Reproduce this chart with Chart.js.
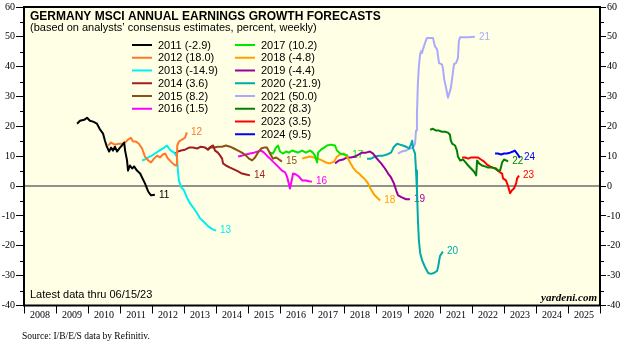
<!DOCTYPE html>
<html>
<head>
<meta charset="utf-8">
<script src="https://cdn.jsdelivr.net/npm/chart.js@4"></script>
<style>
  html, body { margin: 0; padding: 0; background: #fff; }
  #wrap { width: 640px; height: 347px; }
</style>
</head>
<body>
<div id="wrap"><canvas id="c" width="640" height="347"></canvas></div>
<script>
// Weekly consensus forecasts of annual earnings growth, [decimal year, percent]
const fy2011 = [[2009.66,20.9],[2009.75,21.9],[2009.88,22.2],[2009.97,22.9],[2010.06,21.9],[2010.16,21.6],[2010.28,20.9],[2010.38,18.9],[2010.47,17.6],[2010.53,15.2],[2010.59,13.2],[2010.66,11.6],[2010.72,12.9],[2010.78,11.9],[2010.84,13.2],[2010.91,11.6],[2011.00,12.9],[2011.06,13.6],[2011.13,14.6],[2011.16,11.9],[2011.22,8.6],[2011.25,5.2],[2011.31,6.9],[2011.38,5.9],[2011.44,6.6],[2011.53,5.2],[2011.63,4.2],[2011.69,2.9],[2011.78,0.9],[2011.88,-1.8],[2011.97,-3.1],[2012.09,-2.9]];
const fy2012 = [[2010.63,13.6],[2010.72,14.6],[2010.84,13.9],[2010.97,14.2],[2011.09,14.2],[2011.19,14.9],[2011.25,15.6],[2011.34,16.2],[2011.41,14.9],[2011.50,14.9],[2011.59,14.2],[2011.69,12.6],[2011.78,9.9],[2011.88,8.6],[2011.97,7.9],[2012.06,9.2],[2012.16,10.2],[2012.25,9.6],[2012.34,10.6],[2012.41,10.9],[2012.50,9.2],[2012.59,8.2],[2012.69,7.2],[2012.75,6.9],[2012.78,10.2],[2012.79,13.6],[2012.84,14.9],[2012.94,15.6],[2013.03,16.2],[2013.09,18.0]];
const fy2013 = [[2011.69,8.6],[2011.78,8.9],[2011.88,9.6],[2012.00,10.2],[2012.09,10.9],[2012.19,11.6],[2012.28,12.2],[2012.38,12.9],[2012.47,13.6],[2012.53,12.6],[2012.59,11.9],[2012.69,11.2],[2012.78,9.9],[2012.81,5.2],[2012.84,1.9],[2012.91,-0.4],[2013.00,-1.4],[2013.09,-3.8],[2013.19,-5.8],[2013.28,-7.1],[2013.41,-9.1],[2013.50,-10.8],[2013.63,-12.1],[2013.75,-13.4],[2013.88,-14.4],[2014.00,-14.9]];
const fy2014 = [[2012.72,10.9],[2012.81,11.6],[2012.91,11.9],[2013.03,12.2],[2013.16,12.9],[2013.28,12.9],[2013.41,12.6],[2013.53,13.2],[2013.66,12.9],[2013.75,12.2],[2013.84,13.2],[2013.91,13.6],[2013.97,11.9],[2014.06,11.2],[2014.13,10.2],[2014.19,9.2],[2014.22,7.6],[2014.31,6.9],[2014.44,6.2],[2014.56,5.6],[2014.69,4.9],[2014.81,4.2],[2014.94,3.9],[2015.06,3.6]];
const fy2015 = [[2013.72,12.2],[2013.81,12.9],[2013.94,12.9],[2014.06,13.2],[2014.19,13.2],[2014.31,13.6],[2014.44,13.2],[2014.56,12.6],[2014.69,11.9],[2014.81,11.2],[2014.94,10.2],[2015.03,9.2],[2015.13,8.6],[2015.22,9.6],[2015.31,11.2],[2015.41,12.6],[2015.50,12.9],[2015.59,12.9],[2015.69,10.9],[2015.78,9.2],[2015.88,9.6],[2015.97,8.9],[2016.06,8.2]];
const fy2016 = [[2014.69,9.9],[2014.81,10.2],[2014.94,10.6],[2015.06,10.9],[2015.19,11.2],[2015.31,11.6],[2015.41,11.9],[2015.50,11.2],[2015.59,10.2],[2015.69,9.2],[2015.78,8.2],[2015.88,7.2],[2015.97,6.2],[2016.06,5.2],[2016.16,4.6],[2016.22,3.2],[2016.28,0.6],[2016.31,-0.8],[2016.38,2.6],[2016.41,4.2],[2016.50,3.9],[2016.59,3.2],[2016.69,1.9],[2016.81,1.9],[2016.91,1.6],[2017.00,1.5]];
const fy2017 = [[2015.69,11.2],[2015.78,10.9],[2015.88,12.9],[2015.94,13.6],[2016.00,11.6],[2016.09,10.9],[2016.19,11.6],[2016.28,11.2],[2016.38,11.9],[2016.47,11.6],[2016.56,11.2],[2016.69,11.9],[2016.81,11.2],[2016.94,11.9],[2017.03,11.2],[2017.09,10.2],[2017.16,7.9],[2017.19,11.2],[2017.28,12.2],[2017.38,12.9],[2017.47,13.6],[2017.59,13.9],[2017.72,13.6],[2017.78,11.9],[2017.88,10.9],[2018.00,10.6],[2018.13,10.2]];
const fy2018 = [[2016.69,9.2],[2016.81,9.6],[2016.94,9.9],[2017.06,9.6],[2017.19,9.2],[2017.31,8.6],[2017.44,7.9],[2017.56,7.6],[2017.69,8.2],[2017.78,9.9],[2017.88,10.6],[2018.00,10.9],[2018.09,9.9],[2018.19,7.9],[2018.28,6.2],[2018.38,4.9],[2018.47,4.2],[2018.56,3.2],[2018.66,2.2],[2018.75,0.9],[2018.84,-1.1],[2018.94,-2.8],[2019.03,-3.8],[2019.13,-4.8]];
const fy2019 = [[2017.72,7.6],[2017.84,8.6],[2017.97,8.9],[2018.09,9.6],[2018.22,9.6],[2018.34,9.9],[2018.47,10.6],[2018.56,11.2],[2018.69,11.2],[2018.81,11.6],[2018.91,10.9],[2019.03,9.2],[2019.16,7.6],[2019.28,5.9],[2019.38,4.2],[2019.47,2.9],[2019.56,0.9],[2019.63,-1.4],[2019.69,-3.1],[2019.81,-3.8],[2019.94,-4.4],[2020.06,-4.4]];
const fy2020 = [[2018.72,9.2],[2018.84,9.2],[2018.97,9.9],[2019.09,10.2],[2019.22,10.2],[2019.34,10.6],[2019.47,11.2],[2019.56,13.2],[2019.66,14.2],[2019.75,13.9],[2019.84,13.6],[2019.94,13.2],[2020.03,12.6],[2020.09,13.9],[2020.13,15.2],[2020.16,12.6],[2020.22,10.9],[2020.25,5.2],[2020.28,-1.4],[2020.31,-11.4],[2020.34,-18.1],[2020.38,-22.4],[2020.44,-24.8],[2020.53,-27.1],[2020.63,-29.1],[2020.72,-29.4],[2020.81,-29.1],[2020.91,-28.4],[2020.94,-27.1],[2021.00,-23.4],[2021.09,-21.9]];
const fy2021 = [[2019.69,10.9],[2019.81,11.6],[2019.94,11.9],[2020.06,12.6],[2020.16,12.9],[2020.22,14.2],[2020.25,18.6],[2020.28,24.2],[2020.31,34.6],[2020.34,40.2],[2020.38,44.2],[2020.41,45.2],[2020.44,44.6],[2020.47,45.9],[2020.53,47.9],[2020.59,49.6],[2020.69,49.6],[2020.78,49.6],[2020.84,46.9],[2020.91,45.8],[2020.97,41.2],[2021.06,40.8],[2021.09,39.6],[2021.13,35.9],[2021.19,32.9],[2021.25,29.6],[2021.28,29.6],[2021.34,32.9],[2021.41,38.6],[2021.44,40.9],[2021.50,41.2],[2021.56,42.9],[2021.59,48.6],[2021.63,49.9],[2021.88,49.9],[2022.09,50.0]];
const fy2022 = [[2020.69,18.9],[2020.78,19.2],[2020.88,18.6],[2020.97,18.6],[2021.06,18.2],[2021.16,18.2],[2021.25,17.9],[2021.31,17.2],[2021.34,15.2],[2021.38,14.2],[2021.47,13.6],[2021.53,11.9],[2021.56,9.9],[2021.63,8.6],[2021.72,8.9],[2021.78,8.2],[2021.88,6.9],[2021.97,5.9],[2022.06,4.9],[2022.13,3.6],[2022.16,8.6],[2022.22,7.6],[2022.31,6.9],[2022.41,6.6],[2022.50,6.2],[2022.63,6.2],[2022.72,5.9],[2022.81,5.2],[2022.88,5.2],[2022.94,7.9],[2023.00,8.9],[2023.13,8.3]];
const fy2023 = [[2021.69,9.6],[2021.78,9.6],[2021.88,9.2],[2021.97,9.6],[2022.06,9.6],[2022.19,9.6],[2022.28,8.9],[2022.38,8.2],[2022.47,7.2],[2022.56,6.6],[2022.66,6.2],[2022.75,5.9],[2022.84,4.9],[2022.94,4.2],[2022.97,2.6],[2023.06,1.9],[2023.13,-0.1],[2023.19,-2.4],[2023.25,-1.4],[2023.31,-0.8],[2023.38,0.9],[2023.41,2.6],[2023.47,3.5]];
const fy2024 = [[2022.72,10.9],[2022.81,10.9],[2022.91,10.6],[2023.00,10.9],[2023.09,10.9],[2023.19,11.2],[2023.28,11.6],[2023.34,11.9],[2023.41,10.9],[2023.50,9.5]];

const seriesYears = ['2011','2012','2013','2014','2015','2016','2017','2018','2019','2020','2021','2022','2023','2024'];
const seriesData = [fy2011, fy2012, fy2013, fy2014, fy2015, fy2016, fy2017, fy2018, fy2019, fy2020, fy2021, fy2022, fy2023, fy2024];
const finalValues = [-2.9, 18.0, -14.9, 3.6, 8.2, 1.5, 10.2, -4.8, -4.4, -21.9, 50.0, 8.3, 3.5, 9.5];
const yearTicks = [2008, 2009, 2010, 2011, 2012, 2013, 2014, 2015, 2016, 2017, 2018, 2019, 2020, 2021, 2022, 2023, 2024, 2025];

const seriesColors = ['#000000', '#ff7828', '#00f0f0', '#a01e1e', '#8c5014', '#ff00ff', '#00e600',
                      '#ffa000', '#990099', '#00aaaa', '#aaaaff', '#008000', '#ff0000', '#0000ff'];

const SANS = '"Liberation Sans", Arial, sans-serif';
const SERIF = '"Liberation Serif", "Times New Roman", serif';

const decorations = {
  id: 'decorations',
  beforeDraw(chart) {
    const { ctx, chartArea: a } = chart;
    ctx.save();
    ctx.fillStyle = '#ffffff';
    ctx.fillRect(0, 0, chart.width, chart.height);
    ctx.fillStyle = 'rgb(255,255,229)';
    ctx.fillRect(a.left, a.top, a.right - a.left, a.bottom - a.top);
    ctx.restore();
  },
  beforeDatasetsDraw(chart) {
    const { ctx, chartArea: a, scales } = chart;
    ctx.save();
    // zero line
    const y0 = scales.y.getPixelForValue(0);
    ctx.strokeStyle = '#6e6e6e';
    ctx.lineWidth = 1.5;
    ctx.beginPath();
    ctx.moveTo(a.left, y0);
    ctx.lineTo(a.right, y0);
    ctx.stroke();
    // short year tags at the end of each line
    ctx.font = '10px ' + SANS;
    ctx.textBaseline = 'middle';
    ctx.textAlign = 'left';
    chart.data.datasets.forEach((ds, i) => {
      const pts = chart.getDatasetMeta(i).data;
      const last = pts[pts.length - 1];
      ctx.fillStyle = ds.borderColor;
      ctx.fillText(seriesYears[i].slice(2), last.x + 4, last.y);
    });
    ctx.restore();
  },
  afterDraw(chart) {
    const { ctx, chartArea: a, scales } = chart;
    ctx.save();
    // frame
    ctx.strokeStyle = '#000';
    ctx.lineWidth = 2;
    ctx.strokeRect(a.left, a.top, a.right - a.left, a.bottom - a.top);
    // minor ticks on both value axes
    ctx.lineWidth = 1;
    ctx.beginPath();
    for (let v = -35; v < 60; v += 10) {
      const y = Math.round(scales.y.getPixelForValue(v)) + 0.5;
      ctx.moveTo(a.left - 4, y); ctx.lineTo(a.left, y);
      ctx.moveTo(a.right, y); ctx.lineTo(a.right + 4, y);
    }
    ctx.stroke();

    // title block
    ctx.fillStyle = '#000';
    ctx.textAlign = 'left';
    ctx.textBaseline = 'alphabetic';
    ctx.font = 'bold 12px ' + SANS;
    ctx.fillText('GERMANY MSCI ANNUAL EARNINGS GROWTH FORECASTS', 30, 19.5);
    ctx.font = '11px ' + SANS;
    ctx.fillText('(based on analysts\u2019 consensus estimates, percent, weekly)', 30, 31);

    // legend in two columns
    const rowH = 12.75;
    chart.data.datasets.forEach((ds, i) => {
      const col = i < 6 ? 0 : 1;
      const row = col === 0 ? i : i - 6;
      const lx = col === 0 ? 132 : 235;
      const ly = 45 + row * rowH;
      ctx.strokeStyle = ds.borderColor;
      ctx.lineWidth = 2;
      ctx.beginPath();
      ctx.moveTo(lx, ly); ctx.lineTo(lx + 20, ly);
      ctx.stroke();
      ctx.fillStyle = '#000';
      ctx.textBaseline = 'middle';
      ctx.font = '11px ' + SANS;
      ctx.fillText(ds.label, lx + 26, ly + 0.5);
    });

    // notes
    ctx.textBaseline = 'alphabetic';
    ctx.fillStyle = '#000';
    ctx.font = '11px ' + SANS;
    ctx.fillText('Latest data thru 06/15/23', 30, 298);
    ctx.font = 'italic bold 11px ' + SERIF;
    ctx.textAlign = 'right';
    ctx.fillText('yardeni.com', 597, 301);
    ctx.textAlign = 'left';
    ctx.font = '9.5px ' + SERIF;
    ctx.fillText('Source: I/B/E/S data by Refinitiv.', 22, 339);
    ctx.restore();
  }
};

const datasets = seriesData.map((d, i) => ({
  label: seriesYears[i] + ' (' + finalValues[i].toFixed(1) + ')',
  data: d,
  borderColor: seriesColors[i],
  backgroundColor: seriesColors[i],
  borderWidth: 2,
  pointRadius: 0,
  tension: 0,
  fill: false,
  borderJoinStyle: 'round',
  yAxisID: 'y'
}));

const valueTicks = {
  stepSize: 10,
  padding: 1,
  color: '#000',
  font: { family: SERIF, size: 10 }
};

new Chart(document.getElementById('c'), {
  type: 'line',
  data: { datasets },
  plugins: [decorations],
  options: {
    responsive: false,
    animation: false,
    devicePixelRatio: 1,
    layout: { padding: { top: 5, left: 0, right: 0, bottom: 0 } },
    plugins: { legend: { display: false }, tooltip: { enabled: false } },
    scales: {
      x: {
        type: 'linear',
        position: 'bottom',
        min: 2008,
        max: 2026,
        afterFit: s => { s.height = 41.5; },
        afterBuildTicks: s => { s.ticks = yearTicks.concat([2026]).map(v => ({ value: v })); },
        border: { display: false },
        grid: { drawOnChartArea: false, drawTicks: true, tickLength: 8, color: '#000', lineWidth: 1 },
        ticks: {
          autoSkip: false,
          maxRotation: 0,
          labelOffset: 16,
          padding: -4,
          color: '#000',
          font: { family: SERIF, size: 10 },
          callback: v => (yearTicks.includes(v) ? String(v) : '')
        }
      },
      y: {
        position: 'left',
        min: -40,
        max: 60,
        afterFit: s => { s.width = 24; },
        border: { display: false },
        grid: { drawOnChartArea: false, tickLength: 8, color: '#000' },
        ticks: valueTicks
      },
      y2: {
        position: 'right',
        min: -40,
        max: 60,
        afterFit: s => { s.width = 40; },
        border: { display: false },
        grid: { drawOnChartArea: false, tickLength: 6, color: '#000' },
        ticks: valueTicks
      }
    }
  }
});
</script>
</body>
</html>
